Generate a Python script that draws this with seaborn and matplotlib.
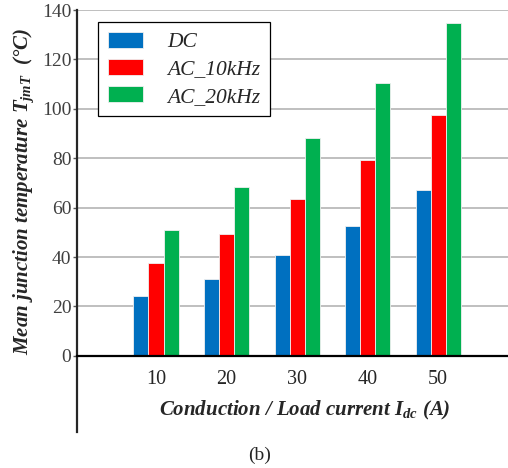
import pandas as pd
import matplotlib
matplotlib.use('Agg')
from matplotlib import pyplot as plt
import seaborn as sns

currents = ['10', '20', '30', '40', '50']
modes = ['DC', 'AC_10kHz', 'AC_20kHz']
dc = [24.4, 31.3, 40.9, 52.7, 67.2]
ac_10k = [37.8, 49.4, 63.4, 79.2, 97.5]
ac_20k = [51.0, 68.4, 88.1, 110.4, 134.9]
colors = ['#0070C0', '#FF0000', '#00B050']

rows = []
for mode, vals in zip(modes, [dc, ac_10k, ac_20k]):
	for cur, v in zip(currents, vals):
		rows.append({'current': cur, 'temp': v, 'mode': mode})
df = pd.DataFrame(rows)

sns.set_theme(style = 'white')
plt.rcParams['font.family'] = ['Liberation Serif', 'DejaVu Serif']
plt.rcParams['mathtext.fontset'] = 'custom'
plt.rcParams['mathtext.rm'] = 'Liberation Serif:bold:italic'
plt.rcParams['mathtext.it'] = 'Liberation Serif:bold:italic'
plt.rcParams['mathtext.bf'] = 'Liberation Serif:bold:italic'

fig = plt.figure(figsize = (5.08, 4.68), dpi = 100)
ax = fig.add_axes([77 / 508, 1 - 432 / 468, 431 / 508, 422 / 468])

sns.barplot(data = df, x = 'current', y = 'temp', hue = 'mode', order = currents,
	hue_order = modes, palette = colors, saturation = 1, width = 0.64, ax = ax,
	edgecolor = '#f0f0f0', linewidth = 0.6, zorder = 3)

ax.set_ylim(-30.8, 140)
ax.set_xlim(-1.12, 4.99)
ax.set_yticks([0, 20, 40, 60, 80, 100, 120, 140])
ax.yaxis.grid(True, color = '#BFBFBF', linewidth = 1.4, zorder = 0)
ax.set_axisbelow(True)

for s in ['top', 'right']:
	ax.spines[s].set_visible(False)
ax.spines['bottom'].set_position(('data', 0))
ax.spines['bottom'].set_color('black')
ax.spines['bottom'].set_linewidth(1.6)
ax.spines['bottom'].set_zorder(4)
ax.spines['left'].set_color('#262626')
ax.spines['left'].set_linewidth(1.6)

ax.tick_params(axis = 'y', left = True, length = 3, width = 1, color = '#595959',
	labelsize = 14, labelcolor = '#404040', pad = 1)
ax.tick_params(axis = 'x', bottom = False, labelsize = 14.5, labelcolor = '#262626', pad = 4)

ax.set_ylabel('Mean junction temperature $T_{jmT}$  (°C)', fontsize = 15,
	fontweight = 'bold', fontstyle = 'italic')
ax.yaxis.set_label_coords(-0.095, 0.569)
ax.set_xlabel('Conduction / Load current $I_{dc}$ (A)', fontsize = 15,
	fontweight = 'bold', fontstyle = 'italic')
ax.xaxis.set_label_coords(0.529, 0.078)

handles, labels = ax.get_legend_handles_labels()
leg = ax.legend(handles, labels, loc = 'upper left', bbox_to_anchor = (0.0487, 0.9716),
	borderaxespad = 0, prop = {'style': 'italic', 'size': 15.5},
	handlelength = 1.65, handleheight = 0.8, handletextpad = 1.1, borderpad = 0.45,
	labelspacing = 0.3, fancybox = False, framealpha = 1, edgecolor = 'black')
leg.get_frame().set_linewidth(0.9)
leg.set_zorder(5)

fig.text(260 / 508, 1 - 455 / 468, '(b)', ha = 'center', va = 'center', fontsize = 14)

plt.savefig('out.png', dpi = 100)
